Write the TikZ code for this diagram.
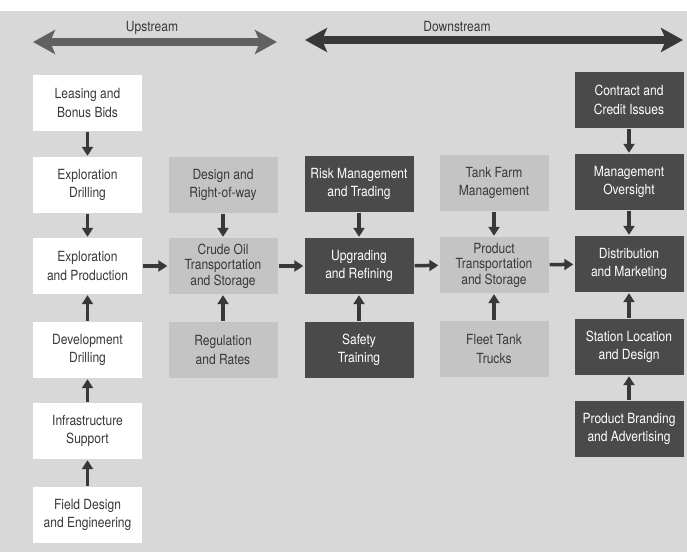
\documentclass[tikz,border=0pt]{standalone}
\usepackage{fontspec}
\setmainfont{TeX Gyre Heros}[FakeStretch=0.86]
\usepackage{xcolor}
\usetikzlibrary{arrows.meta}

\definecolor{paper}{HTML}{D8D8D8}
\definecolor{lightbox}{HTML}{C4C4C4}
\definecolor{darkbox}{HTML}{4A4A4A}
\definecolor{ink}{HTML}{383838}

\tikzset{
  box/.style={minimum width=109pt, minimum height=56pt, inner sep=0pt,
    align=center, font=\fontsize{14}{18.5}\selectfont},
  whitebox/.style={box, fill=white, text=ink},
  greybox/.style={box, fill=lightbox, text=ink},
  darkbox/.style={box, fill=darkbox, text=white},
  three/.style={font=\fontsize{14}{15.5}\selectfont},
  flow/.style={ink, line width=3.5pt, -{Triangle[length=9pt,width=11pt]},
    shorten >=1pt, shorten <=1pt},
  stream/.style={line width=8pt, {Stealth[length=22pt,width=24pt,inset=5pt]}-{Stealth[length=22pt,width=24pt,inset=5pt]}}
}

\begin{document}
\begin{tikzpicture}[x=1pt,y=-1pt]
    \useasboundingbox (0,0) rectangle (687,552);
    \fill[paper] (0,11) rectangle (687,552);

    % top arrows
    \coordinate (upL) at (33,42);
    \coordinate (upR) at (277,42);
    \coordinate (dnL) at (305,40);
    \coordinate (dnR) at (683,40);
    \draw[stream, color=black!62] (upL) -- (upR);
    \draw[stream, color=black!78] (dnL) -- (dnR);
    \node[font=\fontsize{14}{16}\selectfont, text=ink] (uplbl) at (152,28) {Upstream};
    \node[font=\fontsize{14}{16}\selectfont, text=ink] (dnlbl) at (457,26) {Downstream};

    % upstream column
    \node[whitebox] (lease) at (87.5,103) {Leasing and\\Bonus Bids};
    \node[whitebox] (edrill) at (87.5,185) {Exploration\\Drilling};
    \node[whitebox] (eprod) at (87.5,266) {Exploration\\and Production};
    \node[whitebox] (ddrill) at (87.5,350) {Development\\Drilling};
    \node[whitebox] (infra) at (87.5,431) {Infrastructure\\Support};
    \node[whitebox] (field) at (87.5,515) {Field Design\\and Engineering};

    % crude oil
    \node[greybox] (design) at (223,185) {Design and\\Right-of-way};
    \node[greybox, three] (crude) at (223,266) {Crude Oil\\Transportation\\and Storage};
    \node[greybox] (reg) at (223,350) {Regulation\\and Rates};

    % refining
    \node[darkbox] (risk) at (359,184) {Risk Management\\and Trading};
    \node[darkbox] (refine) at (359,266) {Upgrading\\and Refining};
    \node[darkbox] (safety) at (359,350) {Safety\\Training};

    % product
    \node[greybox] (tank) at (494,183) {Tank Farm\\Management};
    \node[greybox, three] (prod) at (494,265) {Product\\Transportation\\and Storage};
    \node[greybox] (fleet) at (494,349) {Fleet Tank\\Trucks};

    % marketing
    \node[darkbox] (credit) at (629,100) {Contract and\\Credit Issues};
    \node[darkbox] (mgmt) at (629,182) {Management\\Oversight};
    \node[darkbox] (dist) at (629,264) {Distribution\\and Marketing};
    \node[darkbox] (station) at (629,347) {Station Location\\and Design};
    \node[darkbox] (brand) at (629,429) {Product Branding\\and Advertising};

    % connectors
    \draw[flow] (lease) -- (edrill);
    \draw[flow] (edrill) -- (eprod);
    \draw[flow] (ddrill) -- (eprod);
    \draw[flow] (infra) -- (ddrill);
    \draw[flow] (field) -- (infra);
    \draw[flow] (design) -- (crude);
    \draw[flow] (reg) -- (crude);
    \draw[flow] (risk) -- (refine);
    \draw[flow] (safety) -- (refine);
    \draw[flow] (tank) -- (prod);
    \draw[flow] (fleet) -- (prod);
    \draw[flow] (credit) -- (mgmt);
    \draw[flow] (mgmt) -- (dist);
    \draw[flow] (station) -- (dist);
    \draw[flow] (brand) -- (station);
    \draw[flow] (eprod) -- (crude);
    \draw[flow] (crude) -- (refine);
    \draw[flow] (refine) -- (prod);
    \draw[flow] (prod) -- (dist);
\end{tikzpicture}
\end{document}
